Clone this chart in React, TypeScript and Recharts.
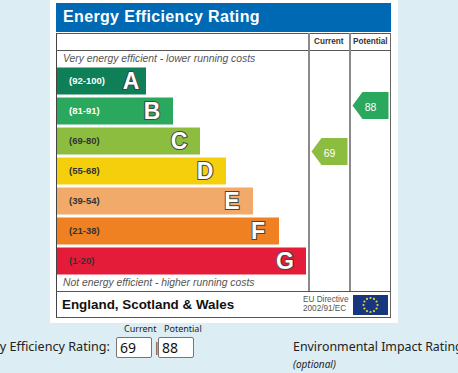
import React from 'react';
import { BarChart, Bar, XAxis, YAxis, Cell, LabelList, ScatterChart, Scatter } from 'recharts';

const bands = ['A', 'B', 'C', 'D', 'E', 'F', 'G'];
const ranges = ['(92-100)', '(81-91)', '(69-80)', '(55-68)', '(39-54)', '(21-38)', '(1-20)'];
const lengths = [89, 116, 143, 169, 196, 222, 249];
const colors = ['#0e7f57', '#2aa85d', '#8dbd3f', '#f6cf0c', '#f1aa69', '#ef8123', '#e51b3a'];
const rangeColors = ['#ffffff', '#ffffff', '#333333', '#333333', '#333333', '#333333', '#333333'];

const ratingColumns = ['Current', 'Potential'];
const ratingValues = [69, 88];
const ratingColors = ['#8dbd3f', '#2aa85d'];

const barData = bands.map((band, i) => ({ band, range: ranges[i], length: lengths[i] }));
const ratingData = ratingColumns.map((column, i) => ({ column, rating: ratingValues[i] }));

const sans = '"Liberation Sans", Arial, sans-serif';
const formFont = '"Noto Sans", sans-serif';

const Txt = ({ x, y, size, children, style }: any) => (
  <div
    style={{
      position: 'absolute',
      left: x,
      top: y,
      fontSize: size,
      lineHeight: '14px',
      whiteSpace: 'nowrap',
      fontFamily: sans,
      ...style,
    }}
  >
    {children}
  </div>
);

const Box = ({ x, y, w, h, bg }: any) => (
  <div style={{ position: 'absolute', left: x, top: y, width: w, height: h, background: bg }} />
);

const RangeLabel = ({ x, y, height, value, index }: any) => (
  <text
    x={x + 12}
    y={y + height / 2 + 3}
    fontFamily={sans}
    fontSize={9.5}
    fontWeight="bold"
    fill={rangeColors[index]}
  >
    {value}
  </text>
);

const LetterLabel = ({ x, y, width, height, value, index }: any) => (
  <text
    x={x + width - (index === 0 ? 15 : 21)}
    y={y + height / 2 + 8}
    textAnchor="middle"
    fontFamily={sans}
    fontSize={23}
    fontWeight="bold"
    fill="#ffffff"
    stroke="#444444"
    strokeWidth={2}
    paintOrder="stroke"
  >
    {value}
  </text>
);

const RatingArrow = ({ cx, cy, payload, index }: any) => {
  const left = cx - 18;
  const right = cx + 18;
  const top = cy - 13.5;
  const bottom = cy + 13.5;
  const points = `${left},${cy} ${left + 10},${top} ${right},${top} ${right},${bottom} ${left + 10},${bottom}`;
  return (
    <g>
      <polygon points={points} fill={ratingColors[index]} />
      <text x={cx} y={cy + 6} textAnchor="middle" fontFamily={sans} fontSize={10.5} fill="#ffffff">
        {payload.rating}
      </text>
    </g>
  );
};

const EuFlag = () => (
  <svg width={35} height={20} style={{ position: 'absolute', left: 353, top: 295 }}>
    <rect width={35} height={20} fill="#16377f" />
    {Array.from({ length: 12 }).map((_, i) => (
      <circle
        key={i}
        cx={17.5 + 7 * Math.cos((i * Math.PI) / 6)}
        cy={10 + 7 * Math.sin((i * Math.PI) / 6)}
        r={1.1}
        fill="#f1cf2f"
      />
    ))}
  </svg>
);

const inputStyle: React.CSSProperties = {
  position: 'absolute',
  top: 337,
  width: 31,
  height: 19,
  border: '1px solid #767676',
  borderRadius: 2,
  background: '#fff',
  fontFamily: formFont,
  fontSize: 14,
  lineHeight: '19px',
  paddingLeft: 3,
  color: '#111',
  boxSizing: 'content-box',
};

export default function App() {
  return (
    <div
      style={{
        position: 'fixed',
        left: 0,
        top: 0,
        width: 458,
        height: 373,
        overflow: 'hidden',
        background: '#dcedf3',
      }}
    >
      <Box x={50} y={0} w={348} h={323} bg="#ffffff" />
      <Box x={56} y={3} w={335} h={29} bg="#0069b4" />
      <Txt x={63} y={10} size={16} style={{ color: '#fff', fontWeight: 'bold', letterSpacing: 0.35 }}>
        Energy Efficiency Rating
      </Txt>

      {/* table frame */}
      <Box x={56} y={33} w={335} h={1} bg="#555" />
      <Box x={56} y={33} w={1} h={285} bg="#444" />
      <Box x={390} y={33} w={1} h={285} bg="#666" />
      <Box x={56} y={317} w={335} h={1} bg="#555" />
      <Box x={56} y={50} w={335} h={1} bg="#555" />
      <Box x={56} y={291} w={335} h={1} bg="#555" />
      <Box x={308} y={33} w={2} h={258} bg="#8a8a8a" />
      <Box x={349} y={33} w={2} h={258} bg="#8a8a8a" />

      <Txt x={314} y={35} size={8.2} style={{ color: '#333', fontWeight: 'bold' }}>Current</Txt>
      <Txt x={353} y={35} size={8.2} style={{ color: '#333', fontWeight: 'bold' }}>Potential</Txt>
      <Txt x={63} y={52} size={10.35} style={{ color: '#555', fontStyle: 'italic' }}>
        Very energy efficient - lower running costs
      </Txt>
      <Txt x={63} y={276} size={10.35} style={{ color: '#555', fontStyle: 'italic' }}>
        Not energy efficient - higher running costs
      </Txt>
      <Txt x={62} y={298} size={13.4} style={{ color: '#111', fontWeight: 'bold' }}>
        England, Scotland &amp; Wales
      </Txt>
      <Txt x={303} y={293} size={8.2} style={{ color: '#555' }}>EU Directive</Txt>
      <Txt x={303} y={302} size={8.2} style={{ color: '#555' }}>2002/91/EC</Txt>
      <EuFlag />

      <div style={{ position: 'absolute', left: 0, top: 0 }}>
        <BarChart
          width={458}
          height={373}
          data={barData}
          layout="vertical"
          margin={{ top: 65.5, right: 152, bottom: 97.5, left: 57 }}
          barSize={27}
        >
          <XAxis type="number" domain={[0, 249]} hide />
          <YAxis type="category" dataKey="band" hide />
          <Bar dataKey="length" isAnimationActive={false}>
            {barData.map((d, i) => (
              <Cell key={d.band} fill={colors[i]} />
            ))}
            <LabelList dataKey="range" content={<RangeLabel />} />
            <LabelList dataKey="band" content={<LetterLabel />} />
          </Bar>
        </BarChart>
      </div>

      <div style={{ position: 'absolute', left: 0, top: 0 }}>
        <ScatterChart width={458} height={373} margin={{ top: 65.5, right: 67, bottom: 97.5, left: 309 }}>
          <XAxis type="category" dataKey="column" allowDuplicatedCategory={false} hide />
          <YAxis type="number" dataKey="rating" domain={[17.75, 104.5]} hide />
          <Scatter data={ratingData} isAnimationActive={false} shape={<RatingArrow />} />
        </ScatterChart>
      </div>

      <Txt x={124} y={322} size={9} style={{ fontFamily: formFont, color: '#222' }}>Current</Txt>
      <Txt x={164} y={322} size={9} style={{ fontFamily: formFont, color: '#222' }}>Potential</Txt>
      <Txt x={-35} y={340} size={12.6} style={{ fontFamily: formFont, color: '#222' }}>
        Energy Efficiency Rating:
      </Txt>
      <div style={{ ...inputStyle, left: 116 }}>69</div>
      <Txt x={153.5} y={341} size={12} style={{ fontFamily: formFont, color: '#222' }}>|</Txt>
      <div style={{ ...inputStyle, left: 158 }}>88</div>
      <Txt x={293} y={340} size={12.4} style={{ fontFamily: formFont, color: '#222' }}>
        Environmental Impact Rating
      </Txt>
      <Txt x={293} y={357} size={10} style={{ fontFamily: formFont, color: '#222', fontStyle: 'italic' }}>
        (optional)
      </Txt>
    </div>
  );
}
